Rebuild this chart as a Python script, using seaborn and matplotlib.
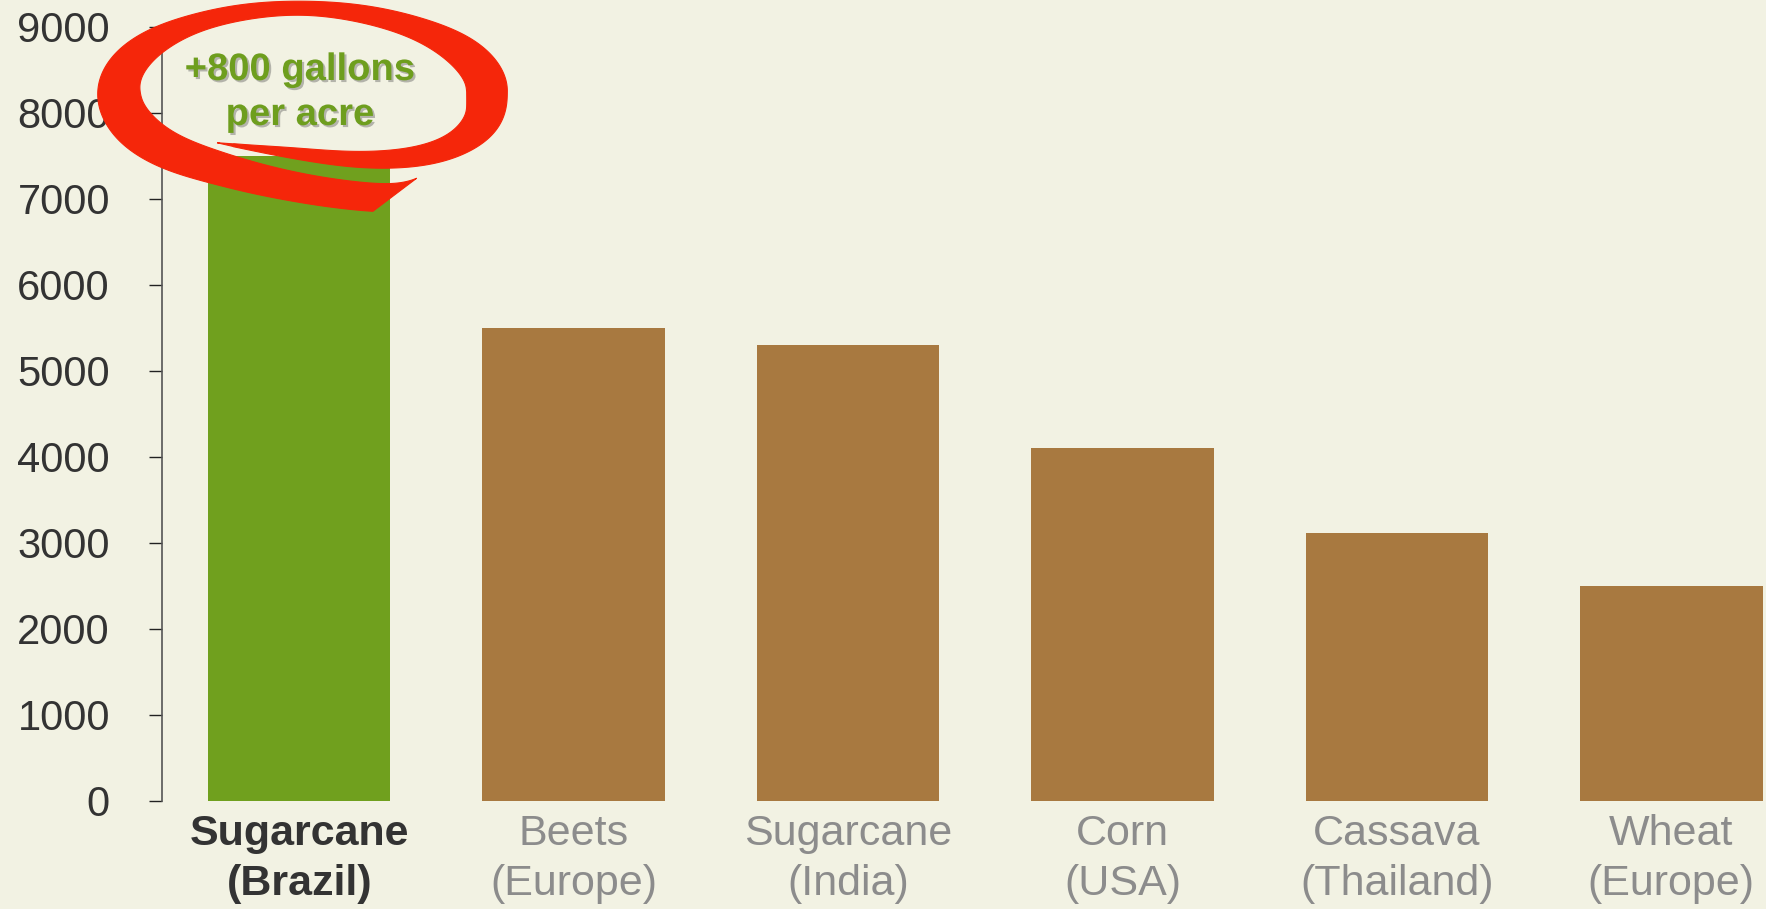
import numpy as np
import matplotlib
matplotlib.use("Agg")
import matplotlib.pyplot as plt
import matplotlib.patheffects as pe
from matplotlib.patches import Polygon
from matplotlib.transforms import Affine2D
import seaborn as sns
import pandas as pd

# ---------------- data ----------------
crops = ["Sugarcane\n(Brazil)", "Beets\n(Europe)", "Sugarcane\n(India)",
         "Corn\n(USA)", "Cassava\n(Thailand)", "Wheat\n(Europe)"]
yields = [7500, 5500, 5300, 4100, 3120, 2500]
bar_colors = ["#70A01E", "#A87940", "#A87940", "#A87940", "#A87940", "#A87940"]
y_ticks = [0, 1000, 2000, 3000, 4000, 5000, 6000, 7000, 8000, 9000]
note_lines = ["+800 gallons", "per acre"]

# ---------------- figure ----------------
W, H = 1766, 909
sns.set_theme(style="white")
plt.rcParams['font.family'] = ['Liberation Sans', 'DejaVu Sans']
bg = "#F2F2E3"
fig = plt.figure(figsize=(W / 100, H / 100), dpi=100)
fig.patch.set_facecolor(bg)
PX = Affine2D().scale(1 / W, -1 / H).translate(0, 1) + fig.transFigure

ax = fig.add_axes([162 / W, 1 - 801 / H, 1 - 162 / W, (801 - 27) / H])
ax.set_facecolor("none")

df = pd.DataFrame({"crop": crops, "yield": yields})
sns.barplot(data=df, x="crop", y="yield", hue="crop", palette=bar_colors,
            width=0.665, saturation=1, legend=False, linewidth=0, ax=ax)

ax.set_xlim(-0.5, 5.345)
ax.set_ylim(0, 9000)
ax.set_yticks(y_ticks)
ax.set_yticklabels([str(v) for v in y_ticks])
ax.set_xlabel("")
ax.set_ylabel("")
for side in ["top", "right", "bottom"]:
    ax.spines[side].set_visible(False)
ax.spines["left"].set_color("#555555")
ax.spines["left"].set_linewidth(1.2)
ax.tick_params(axis="y", left=True, length=9.5, width=1.0, color="#222222",
               labelsize=30, labelcolor="#333333", pad=28)
ax.tick_params(axis="x", bottom=False, length=0, labelsize=31, pad=9.4)
for i, lab in enumerate(ax.get_xticklabels()):
    lab.set_linespacing(1.33)
    if i == 0:
        lab.set_color("#333333")
        lab.set_fontweight("bold")
    else:
        lab.set_color("#8C8C8C")

# ---------------- red hand-drawn swoosh (decoration, pixel space) ----------------
def smooth(v, sigma):
    k = np.exp(-0.5 * (np.arange(-4 * sigma, 4 * sigma + 1) / sigma) ** 2)
    k /= k.sum()
    pad = int(4 * sigma)
    vp = np.concatenate([np.full(pad, v[0]), v, np.full(pad, v[-1])])
    return np.convolve(vp, k, mode="valid")

t_start, t_end = 2.057, -5.416
t = np.linspace(t_start, t_end, 1500)
tk = np.array([2.057, 1.642, 1.273, 0.881, 0.598, 0.234, -1.571, -3.14, -3.82,
               -4.21, -4.64, -5.01, -5.416])
Bk = np.array([54.5, 60, 70, 77, 79, 75, 84, 85, 86, 84, 93, 107, 134])
wt = np.array([2.057, 1.642, 1.273, 0.881, 0.598, 0.234, 0.0, -0.5, -0.9, -1.571,
               -2.2, -2.7, -3.14, -3.6, -3.82, -4.21, -4.64, -5.01, -5.416])
wk = np.array([0, 11, 16, 20, 24, 36, 43, 34, 22, 13, 18, 32, 44, 42, 38, 33, 29, 28, 28])
B = smooth(np.interp(-t, -tk, Bk), 30)
wv = np.interp(-t, -wt, wk)
wv[20:] = smooth(wv, 25)[20:]
p = np.where(t > 0, 0.7, 1.0)
xc = 303 + 184 * np.cos(t)
yc = 92 + B * np.sign(np.sin(t)) * np.abs(np.sin(t)) ** p
C = np.column_stack([xc, yc])
d = np.gradient(C, axis=0)
nrm = np.column_stack([-d[:, 1], d[:, 0]])
nrm /= np.linalg.norm(nrm, axis=1)[:, None]
sideA = C + nrm * (wv / 2)[:, None]
sideB = C - nrm * (wv / 2)[:, None]
keep = ~((t < -5.0) & (sideA[:, 0] > 373))   # diagonal cut of the tail
sideA = sideA[keep]
pts = np.vstack([sideA, sideB[::-1]])
swoosh = Polygon(pts, closed=True, facecolor="#F5260A", edgecolor="#F5260A",
                 linewidth=0.8, transform=PX, clip_on=False, zorder=5)
fig.add_artist(swoosh)

# ---------------- annotation text ----------------
shadow = [pe.withSimplePatchShadow(offset=(1.5, -1.5), shadow_rgbFace="#555555", alpha=0.4)]
for line, yb in zip(note_lines, [80, 125]):
    fig.text(300, yb, line, transform=PX, ha="center", va="baseline",
             fontsize=27.5, fontweight="bold", color="#6E9E1E",
             path_effects=shadow, zorder=6)

fig.savefig("out.png", dpi=100, facecolor=bg)
